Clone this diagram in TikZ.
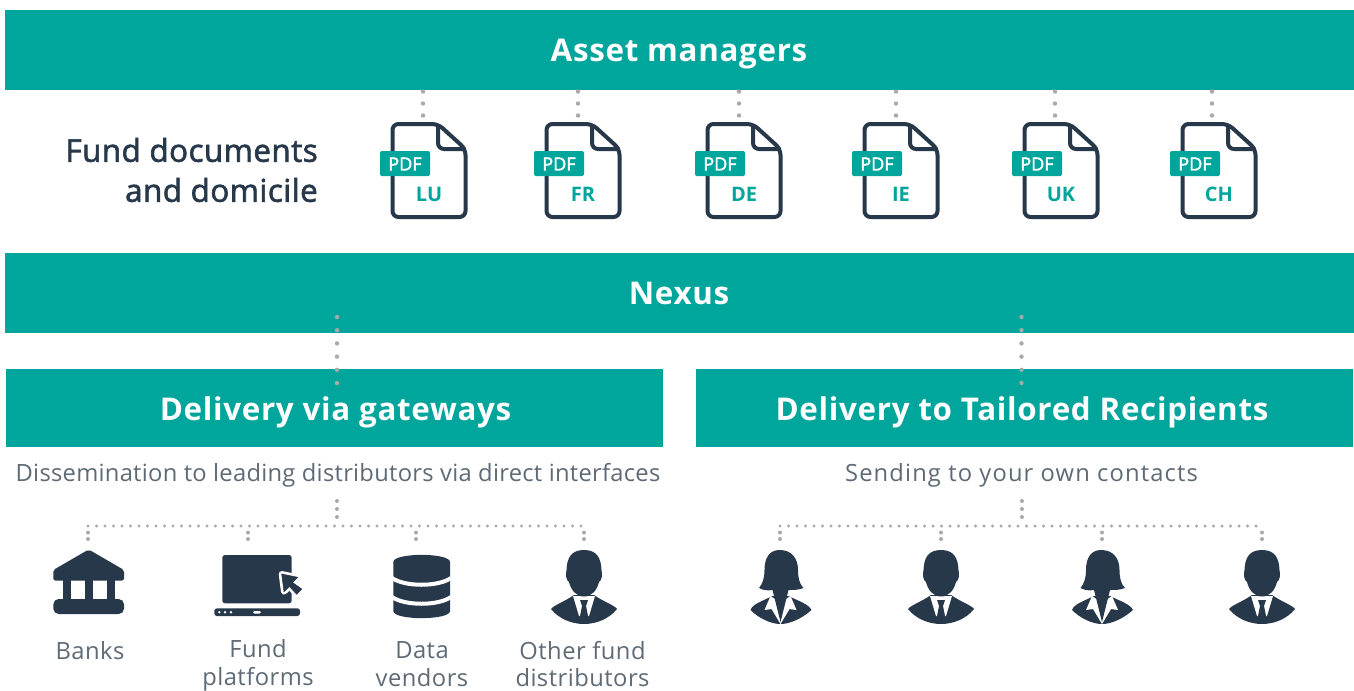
\documentclass[tikz,border=0pt]{standalone}
\usepackage{fontspec}
\setmainfont{Open Sans}
\newfontfamily\medfont[FakeBold=2]{Open Sans}
\newfontfamily\medfontsp[FakeBold=2,LetterSpace=1.6]{Open Sans}
\definecolor{teal1}{HTML}{00A59B}
\definecolor{navy}{HTML}{27384A}
\definecolor{greytxt}{HTML}{5E6A75}
\definecolor{dotgrey}{HTML}{A9A9A9}
\newcommand{\ls}[1]{\addfontfeature{LetterSpace=#1}}
\tikzset{
  x=0.75pt,y=-0.75pt,
  banner/.style={fill=teal1,draw=none,inner sep=0pt},
  bannertxt/.style={text=white,inner sep=0pt,text height=16.5pt,text depth=0pt,font=\bfseries\fontsize{23.5}{26}\selectfont\ls{2.2}},
  dotsH/.style={draw=dotgrey,line width=2.6pt,line cap=round,dash pattern=on 0pt off 6.375pt},
  dotsV/.style={draw=dotgrey,line width=3pt,line cap=round,dash pattern=on 0pt off 6pt},
  dotsS/.style={draw=dotgrey,line width=3pt,line cap=round,dash pattern=on 0pt off 4.875pt},
  dotsT/.style={draw=dotgrey,line width=3.3pt,line cap=round,dash pattern=on 0pt off 9pt},
  dotsN/.style={draw=dotgrey,line width=3.3pt,line cap=round,dash pattern=on 0pt off 9.9pt},
  subtxt/.style={text=greytxt,inner sep=0pt},
  lbl/.style={text=greytxt,font=\fontsize{17.8}{20.6}\selectfont\ls{2},inner sep=0pt,align=center},
  pics/docicon/.style n args={1}{code={
    \draw[navy,line width=3pt,line join=round,rounded corners=4.5pt] (0,0) -- (45.5,0) -- (73,25) -- (73,93) -- (0,93) -- cycle;
    \draw[navy,line width=3pt,rounded corners=4.5pt] (45.5,0) -- (45.5,25) -- (73,25);
    \fill[teal1,rounded corners=1.5pt] (-12.5,27) rectangle (37.5,52);
    \node[text=white,inner sep=0pt,font=\medfont\fontsize{13.5}{15}\selectfont] at (12.5,40) {PDF};
    \node[text=teal1,inner sep=0pt,font=\bfseries\fontsize{15}{17}\selectfont] at (36.5,70) {#1};
  }},
  pics/manicon/.style={code={
    \fill[navy] (-33,59) .. controls (-30,55) and (-20,52) .. (-10,45) -- (10,45) .. controls (20,52) and (30,55) .. (33,59) .. controls (25,69) and (12,74) .. (0,74) .. controls (-12,74) and (-25,69) .. (-33,59) -- cycle;
    \fill[white] (-11,46) -- (-5,66) -- (5,66) -- (11,46) -- cycle;
    \fill[navy] (-4,50) -- (4,50) -- (2,56) -- (4,66) -- (0,72) -- (-4,66) -- (-2,56) -- cycle;
    \fill[navy] (0,0) .. controls (13,0) and (17,8) .. (17.5,20) .. controls (18.5,25) and (18,30) .. (15,32) .. controls (13,40) and (8,46.5) .. (0,46.5) .. controls (-8,46.5) and (-13,40) .. (-15,32) .. controls (-18,30) and (-18.5,25) .. (-17.5,20) .. controls (-17,8) and (-13,0) .. (0,0) -- cycle;
  }},
  pics/womanicon/.style={code={
    \fill[navy] (-30,60) .. controls (-28,54) and (-18,51) .. (-8,46) -- (8,46) .. controls (18,51) and (28,54) .. (31,60) .. controls (22,68) and (10,74) .. (0,74) .. controls (-10,74) and (-22,68) .. (-30,60) -- cycle;
    \fill[white] (-10,46) -- (-16,60) -- (-9,59) -- (0,74) -- (9,59) -- (16,60) -- (10,46) -- (4,50) -- (0,70) -- (-4,50) -- cycle;
    \fill[navy] (-1,0) .. controls (11,0) and (17.5,8) .. (17.5,20) .. controls (17.5,28) and (19,34) .. (23,38) .. controls (18,40) and (13,40) .. (8,40) -- (0,72) -- (-8,40) .. controls (-13,41) and (-18,40) .. (-21.5,38) .. controls (-18,34) and (-16,28) .. (-16,20) .. controls (-16,8) and (-11,0) .. (-1,0) -- cycle;
  }},
}
\begin{document}
\begin{tikzpicture}
\useasboundingbox (0,0) rectangle (1354,690);
\fill[white] (0,0) rectangle (1354,690);
% banners
\node[banner,minimum width=1349*0.75pt,minimum height=60pt] (asset) at (679.5,50) {};
\node[bannertxt] (assettxt) at (679,50) {Asset managers};
\node[banner,minimum width=1349*0.75pt,minimum height=60pt] (nexus) at (679.5,293) {};
\node[bannertxt] (nexustxt) at (679,293) {Nexus};
\node[banner,minimum width=657*0.75pt,minimum height=58.5pt] (gate) at (334.5,408) {};
\node[bannertxt] (gatetxt) at (335.5,409) {Delivery via gateways};
\node[banner,minimum width=657*0.75pt,minimum height=58.5pt] (tail) at (1024.5,408) {};
\node[bannertxt] (tailtxt) at (1022,409) {Delivery to Tailored Recipients};
% fund documents
\node[anchor=east,align=right,text=navy,inner sep=0pt,font=\medfontsp\fontsize{23.5}{30}\selectfont] (funddoc) at (318,170) {Fund documents\\and domicile};
\foreach \nm/\lft/\dx in {LU/392.5/423,FR/546.5/578,DE/707.5/739,IE/864.5/896,UK/1024.5/1055,CH/1182.5/1212}{
  \pic at (\lft,124) {docicon={\nm}};
  \coordinate (t\nm) at (\dx,115.5);
  \draw[dotsT] (t\nm) -- (t\nm |- asset.south);
}
% nexus drops
\coordinate (g1) at (337,317);
\coordinate (g2) at (337,384);
\coordinate (r1) at (1021.5,317);
\coordinate (r2) at (1021.5,384);
\draw[dotsN] (g1) -- (g2);
\draw[dotsN] (r1) -- (r2);
% sub text
\node[subtxt,font=\fontsize{17.8}{22}\selectfont\ls{1.15}] (s1) at (338,475.5) {Dissemination to leading distributors via direct interfaces};
\node[subtxt,font=\fontsize{17.8}{22}\selectfont\ls{4.8}] (s2) at (1021.5,475.5) {Sending to your own contacts};
% tree left
\coordinate (lt) at (337,501); \coordinate (lm) at (337,517.5);
\draw[dotsV] (lt) -- (lm);
\coordinate (la) at (88,526); \coordinate (lb) at (248,526); \coordinate (lc) at (416,526); \coordinate (ld) at (584,526);
\draw[dotsH] (la) -- (ld);
\foreach \c in {la,lb,lc,ld}{\draw[dotsS] ([yshift=-4.9pt]\c) -- ++(0,6.7);}
% tree right
\coordinate (rt) at (1022,501); \coordinate (rm) at (1022,517.5);
\draw[dotsV] (rt) -- (rm);
\coordinate (ra) at (780,526); \coordinate (rb) at (941,526); \coordinate (rc) at (1102,526); \coordinate (rd) at (1262,526);
\draw[dotsH] (ra) -- (rd);
\foreach \c in {ra,rb,rc,rd}{\draw[dotsS] ([yshift=-4.9pt]\c) -- ++(0,6.7);}
% bank
\fill[navy,rounded corners=1.5pt] (88.7,549.5) -- (124,570) -- (124,580.5) -- (53.3,580.5) -- (53.3,570) -- cycle;
\fill[navy] (63.3,580) rectangle (71.3,600);
\fill[navy] (85,580) rectangle (93.3,600);
\fill[navy] (106.7,580) rectangle (114.7,600);
\fill[navy,rounded corners=4pt] (53.3,614) -- (53.3,599) -- (124,599) -- (124,614) -- cycle;
% laptop
\fill[navy,rounded corners=2pt] (222.3,603.3) -- (222.3,555) -- (291.7,555) -- (291.7,603.3) -- cycle;
\fill[navy,rounded corners=2pt] (214.3,608.3) -- (300,608.3) -- (300,616) -- (214.3,616) -- cycle;
\fill[white] (219.3,612.2) circle (1.3);
\fill[white] (225,612.2) circle (1.3);
\fill[white] (231,612.2) circle (1.3);
\fill[white,rounded corners=1pt] (253,611) rectangle (261,613.5);
\filldraw[navy,preaction={draw=white,line width=4.5pt,line join=round}] (281.7,574) -- (297.7,577.3) -- (292.5,582.5) -- (301.7,589) -- (296.7,594.3) -- (289.5,586.5) -- (284,591.7) -- cycle;
% database
\fill[navy] (393.3,562) .. controls (393.3,552.5) and (450,552.5) .. (450,562) -- (450,611) .. controls (450,620.5) and (393.3,620.5) .. (393.3,611) -- cycle;
\draw[white,line width=3pt] (392,578) .. controls (405,587) and (438,587) .. (451,578);
\draw[white,line width=3pt] (392,597) .. controls (405,606) and (438,606) .. (451,597);
% people
\pic at (584,550) {manicon};
\pic at (780.5,550) {womanicon};
\pic at (941,550) {manicon};
\pic at (1102,550) {womanicon};
\pic at (1262,550) {manicon};
% labels
\node[lbl] (l1) at (90,651) {Banks};
\node[lbl] (l2) at (258,665.5) {Fund\\platforms};
\node[lbl] (l3) at (422,664) {Data\\vendors};
\node[lbl] (l4) at (582.5,664) {Other fund\\distributors};
\end{tikzpicture}
\end{document}
